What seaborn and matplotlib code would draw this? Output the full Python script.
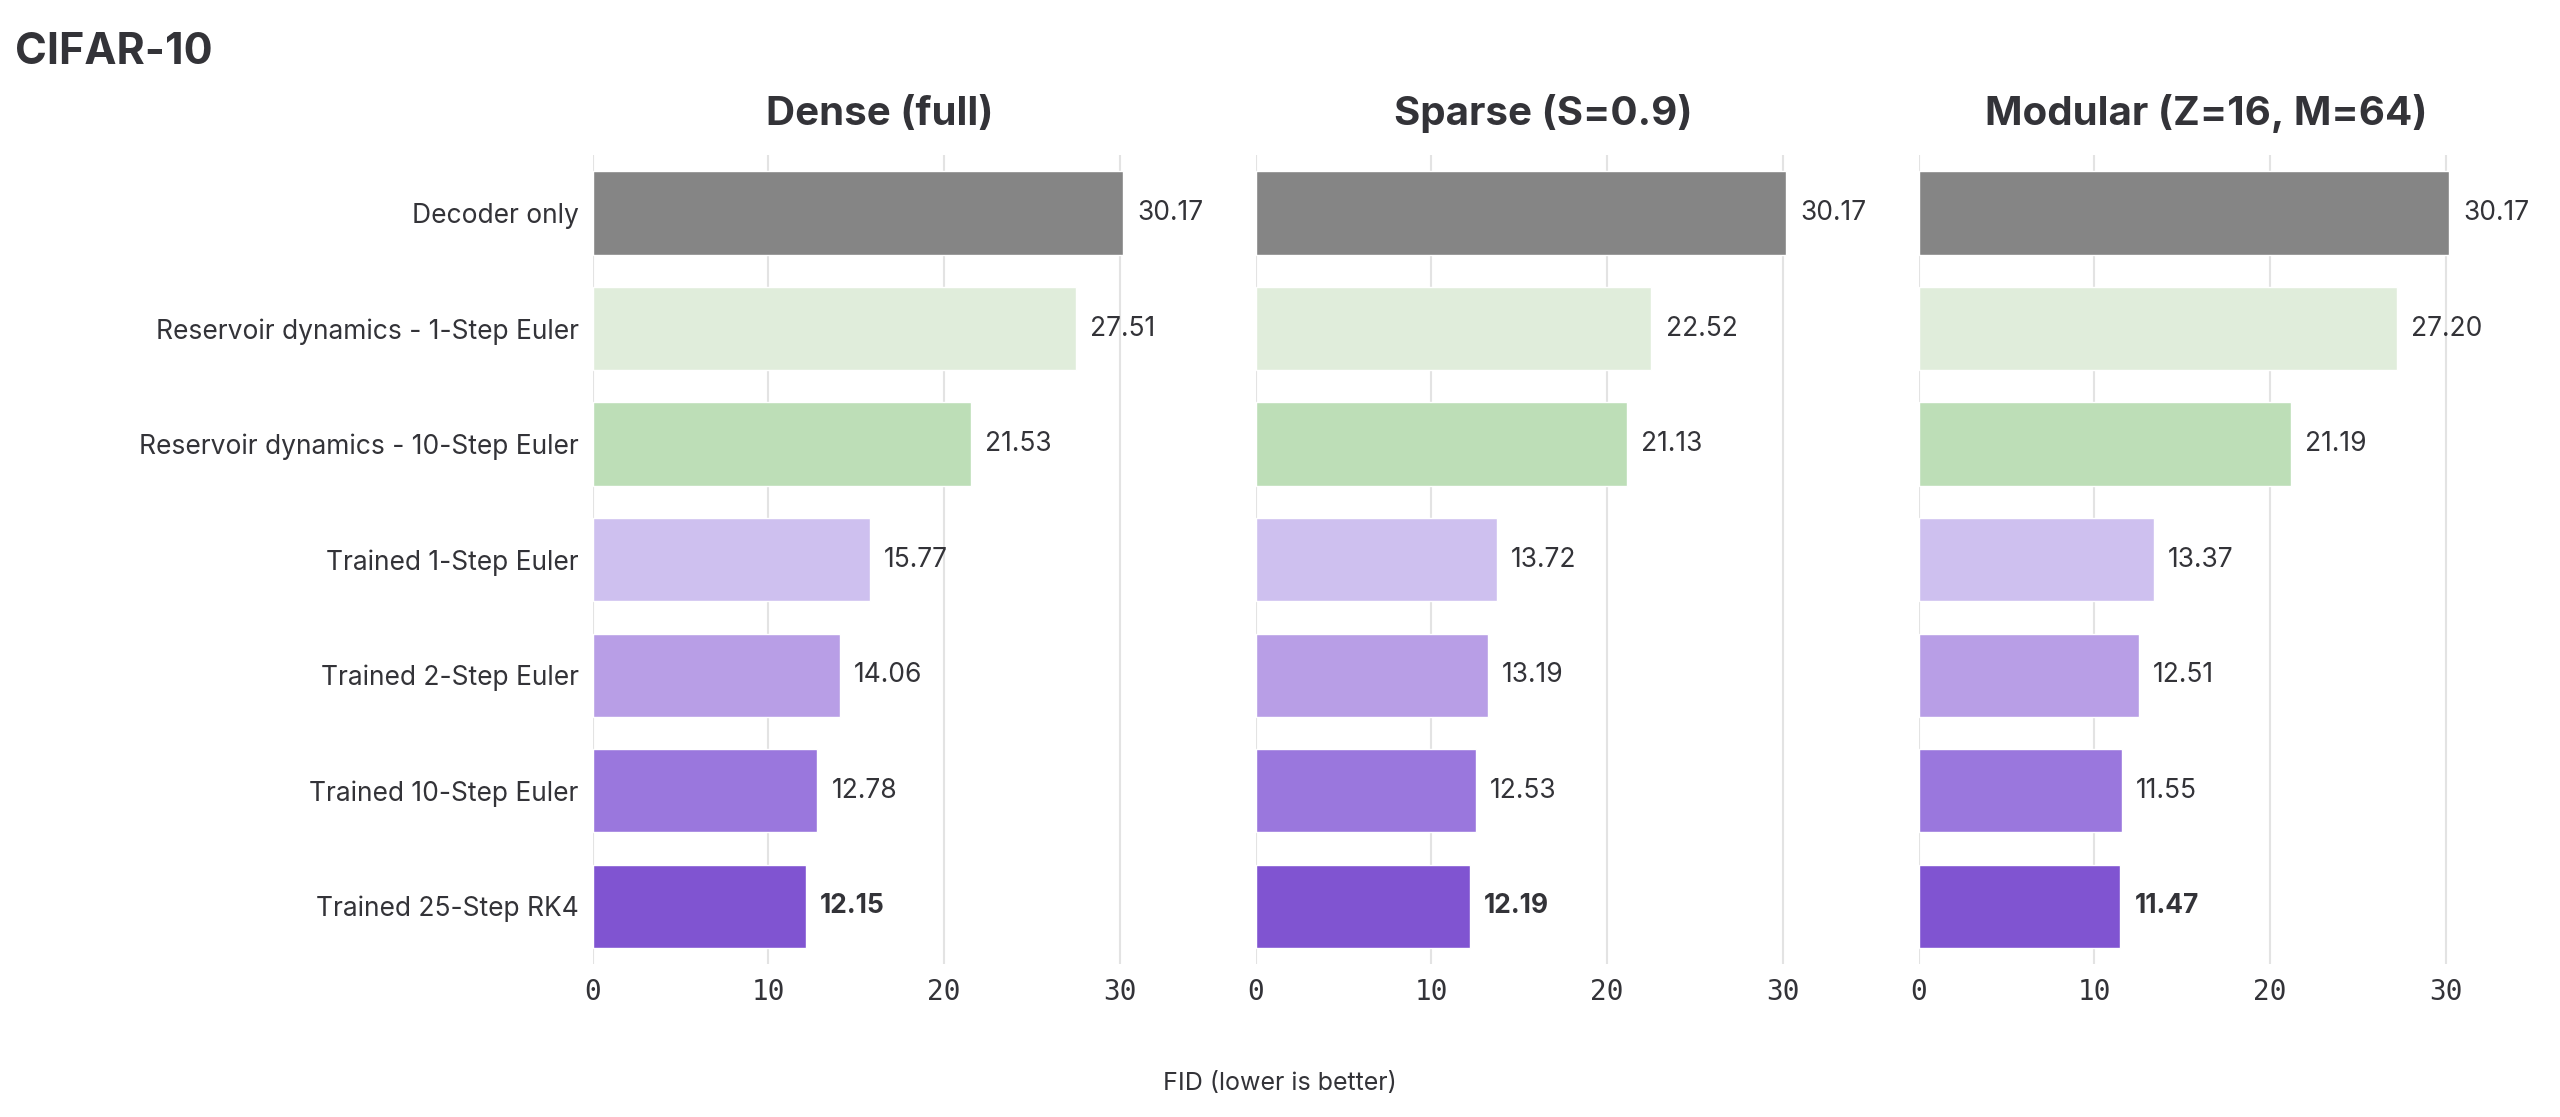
import matplotlib
matplotlib.use("Agg")
import matplotlib.pyplot as plt
import seaborn as sns
import pandas as pd

methods = ['Decoder only', 'Reservoir dynamics - 1-Step Euler', 'Reservoir dynamics - 10-Step Euler',
           'Trained 1-Step Euler', 'Trained 2-Step Euler', 'Trained 10-Step Euler', 'Trained 25-Step RK4']
panels = ['Dense (full)', 'Sparse (S=0.9)', 'Modular (Z=16, M=64)']
dense = [30.17, 27.51, 21.53, 15.77, 14.06, 12.78, 12.15]
sparse = [30.17, 22.52, 21.13, 13.72, 13.19, 12.53, 12.19]
modular = [30.17, 27.20, 21.19, 13.37, 12.51, 11.55, 11.47]
colors = ['#858585', '#dff0d8', '#b8e4b0', '#cbb8f7', '#b592f2', '#9466ee', '#7a3fe6']

sns.set_style('white')
plt.rcParams['font.family'] = ['Inter', 'DejaVu Sans']

fig = plt.figure(figsize=(25.6, 11.17), dpi=100)
text_col = '#333338'
for i, (name, vals) in enumerate(zip(panels, [dense, sparse, modular])):
    ax = fig.add_axes([0.2315 + i * 0.259, 0.137, 0.2245, 0.724])
    df = pd.DataFrame({'method': methods, 'fid': vals})
    sns.barplot(data=df, x='fid', y='method', hue='method', palette=colors, legend=False,
                width=0.72, ax=ax, zorder=3)
    ax.set_xlim(0, 32.7)
    ax.set_xticks([0, 10, 20, 30])
    ax.grid(axis='x', color='#e3e3e3', linewidth=1.5, zorder=0)
    for s in ax.spines.values():
        s.set_visible(False)
    ax.set_xlabel('')
    ax.set_ylabel('')
    ax.tick_params(axis='both', length=0, pad=10)
    for lab in ax.get_xticklabels():
        lab.set_fontfamily('DejaVu Sans Mono')
        lab.set_fontsize(20)
        lab.set_color(text_col)
    if i == 0:
        ax.tick_params(axis='y', labelsize=19, labelcolor=text_col)
    else:
        ax.set_yticklabels([])
    ax.set_title(name, fontsize=29, fontweight='bold', color=text_col, pad=22)
    for j, v in enumerate(vals):
        ax.text(v + 0.8, j, f'{v:.2f}', va='center', ha='left', fontsize=19, color=text_col,
                fontweight='bold' if j == len(vals) - 1 else 'normal')

fig.text(0.006, 0.953, 'CIFAR-10', fontsize=31, fontweight='bold', color=text_col, va='center')
fig.text(0.5, 0.03, 'FID (lower is better)', fontsize=18, color=text_col, ha='center', va='center')
fig.savefig('out.png', dpi=100, facecolor='white')
